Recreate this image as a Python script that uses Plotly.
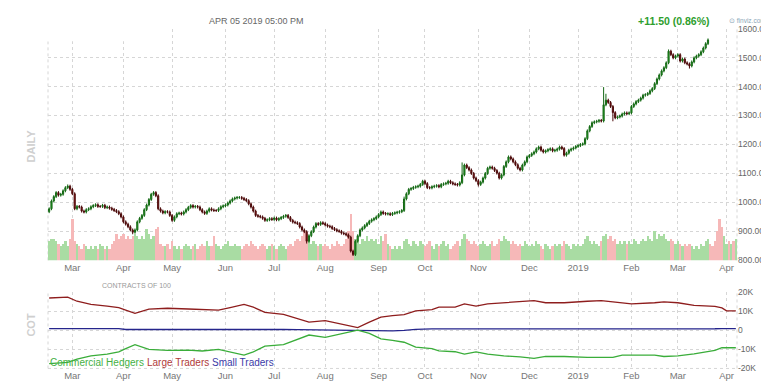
import plotly.graph_objects as go
import pandas as pd

W, H = 769, 382


def fx(p):
    return p / W


def fy(p):
    return 1 - p / H


# ---------------- data ----------------
session_dates = pd.bdate_range("2018-02-15", periods=297)
month_labels = ["Mar", "Apr", "May", "Jun", "Jul", "Aug", "Sep", "Oct", "Nov",
                "Dec", "2019", "Feb", "Mar", "Apr"]

first_open = 968
closes = [
    978, 1005, 1020, 1034, 1025, 1028, 1040, 1051, 1056, 1045,
    1030, 978, 986, 984, 970, 967, 975, 978, 985, 989,
    992, 986, 986, 990, 982, 984, 980, 976, 972, 968,
    961, 950, 933, 925, 916, 905, 897, 905, 933, 945,
    955, 975, 991, 1010, 1028, 1034, 1023, 978, 970, 964,
    968, 967, 955, 938, 950, 961, 963, 960, 967, 975,
    983, 989, 984, 986, 984, 975, 967, 962, 970, 978,
    974, 972, 972, 978, 985, 988, 991, 998, 1005, 1012,
    1015, 1017, 1017, 1014, 1010, 1006, 995, 984, 970, 955,
    952, 950, 945, 938, 940, 944, 941, 946, 940, 944,
    948, 952, 955, 948, 938, 932, 930, 927, 915, 905,
    899, 866, 885, 899, 915, 927, 924, 930, 927, 922,
    918, 916, 910, 906, 902, 900, 894, 892, 888, 880,
    832, 820, 866, 885, 905, 912, 920, 927, 935, 940,
    944, 950, 958, 967, 962, 960, 961, 958, 962, 964,
    966, 968, 972, 1012, 1030, 1045, 1048, 1052, 1054, 1056,
    1062, 1073, 1065, 1051, 1050, 1054, 1056, 1058, 1054, 1062,
    1064, 1066, 1073, 1068, 1064, 1062, 1060, 1068, 1095, 1129,
    1120, 1112, 1100, 1084, 1075, 1062, 1070, 1084, 1100, 1118,
    1122, 1118, 1110, 1101, 1084, 1095, 1124, 1140, 1157, 1150,
    1140, 1130, 1118, 1112, 1129, 1140, 1157, 1162, 1168, 1174,
    1185, 1191, 1180, 1174, 1178, 1182, 1185, 1178, 1180, 1184,
    1191, 1186, 1163, 1170, 1180, 1184, 1188, 1193, 1196, 1200,
    1202, 1220, 1247, 1262, 1275, 1278, 1280, 1283, 1281, 1337,
    1353, 1345, 1331, 1310, 1292, 1295, 1298, 1305, 1309, 1306,
    1309, 1331, 1340, 1348, 1353, 1360, 1370, 1372, 1376, 1385,
    1393, 1410, 1426, 1440, 1454, 1465, 1482, 1522, 1510, 1499,
    1505, 1510, 1488, 1495, 1482, 1478, 1471, 1485, 1499, 1505,
    1510, 1520, 1533, 1548, 1561,
]
high_spikes = {8: 1062, 153: 1020, 178: 1138, 239: 1398, 240: 1375, 267: 1528}
low_spikes = {36: 890, 111: 858, 131: 815, 185: 1055, 243: 1280, 276: 1462}
wick = 5

volume_k = [
    8, 9, 9, 8, 7, 6, 7, 8, 6, 9,
    17, 8, 7, 6, 5, 7, 6, 5, 6, 5,
    6, 5, 7, 6, 5, 6, 5, 7, 8, 11,
    9, 10, 11, 9, 10, 9, 10, 11, 10, 9,
    10, 9, 13, 11, 9, 10, 13, 14, 7, 6,
    6, 7, 5, 8, 6, 5, 6, 5, 6, 7,
    6, 5, 6, 7, 5, 6, 7, 6, 8, 6,
    6, 10, 7, 6, 5, 6, 7, 8, 6, 6,
    7, 6, 6, 5, 6, 7, 6, 8, 7, 6,
    5, 6, 7, 6, 5, 6, 7, 6, 5, 6,
    7, 6, 5, 6, 7, 6, 8, 9, 8, 10,
    12, 11, 9, 7, 8, 7, 6, 7, 6, 7,
    6, 5, 7, 6, 8, 7, 6, 7, 9, 12,
    19, 12, 9, 8, 7, 9, 8, 10, 8, 9,
    8, 9, 7, 10, 8, 11, 7, 6, 5, 6,
    5, 6, 5, 8, 9, 7, 6, 8, 7, 6,
    8, 7, 6, 7, 8, 6, 5, 7, 6, 7,
    8, 6, 7, 5, 6, 7, 8, 6, 9, 11,
    9, 8, 7, 8, 7, 6, 7, 8, 7, 6,
    7, 8, 6, 7, 9, 8, 10, 9, 8, 7,
    8, 7, 6, 7, 6, 8, 7, 6, 7, 6,
    8, 7, 6, 5, 7, 6, 5, 6, 7, 6,
    7, 6, 8, 7, 6, 5, 7, 6, 7, 6,
    7, 9, 10, 8, 7, 8, 7, 6, 8, 10,
    11, 9, 10, 8, 9, 7, 8, 7, 8, 7,
    8, 7, 9, 8, 7, 8, 9, 8, 10, 9,
    8, 12, 9, 11, 10, 11, 9, 8, 9, 8,
    7, 8, 7, 6, 7, 6, 7, 6, 5, 6,
    5, 7, 6, 8, 9, 7, 6, 8, 12, 17,
    14, 10, 7, 8, 7, 8, 9,
]
volume_up_tail = [0, 0, 0, 0, 0, 0, 1, 1, 0, 1, 0, 1]

cot_idx = [0, 8, 12, 18, 25, 30, 33, 37, 43, 51, 60, 66, 73, 78, 84, 88, 93,
           101, 107, 112, 119, 127, 133, 138, 143, 148, 153, 158, 165, 168,
           175, 179, 184, 189, 196, 203, 209, 214, 222, 232, 238, 243, 247,
           251, 261, 265, 271, 278, 287, 290, 292, 296]
large_traders_k = [17.1, 17.6, 15.4, 13.7, 12.8, 12.0, 10.7, 9.0, 11.2, 11.7,
                   11.3, 11.0, 10.7, 12.0, 13.7, 12.3, 9.5, 8.5, 6.1, 4.4,
                   5.2, 3.0, 1.5, 4.4, 7.0, 7.8, 8.3, 10.3, 11.0, 12.3,
                   12.3, 14.0, 12.8, 14.0, 14.6, 15.1, 15.7, 14.6, 14.6, 15.4,
                   15.7, 15.0, 14.6, 14.0, 14.6, 15.1, 14.6, 13.2, 12.7, 11.9,
                   10.3, 10.3]
commercial_k = [-17.5, -16.8, -15.1, -13.4, -12.5, -11.3, -9.6, -7.5, -10.0,
                -10.5, -10.3, -10.8, -10.0, -11.3, -13.0, -11.3, -8.3, -7.5,
                -4.9, -2.4, -3.6, -1.5, 0.2, -1.5, -4.4, -5.2, -6.2, -8.8,
                -9.6, -10.8, -11.2, -12.5, -11.3, -12.5, -13.4, -13.9, -14.7,
                -13.7, -13.7, -14.2, -14.4, -14.2, -13.0, -13.0, -13.0, -13.7,
                -13.4, -12.3, -10.5, -9.1, -9.1, -9.1]
small_k = [1.0, 1.0, 1.0, 1.0, 1.0, 1.0, 0.5, 0.5, 0.5, 0.5, 0.5, 0.6, 0.8,
           0.8, 0.7, 0.6, 0.5, 0.5, 0.4, 0.3, 0.2, 0.0, -0.2, -0.2, -0.2,
           -0.2, 0.0, 0.6, 0.8, 0.8, 0.8, 0.8, 0.8, 0.8, 0.8, 0.8, 0.8, 0.8,
           0.7, 0.6, 0.6, 0.6, 0.6, 0.7, 0.8, 0.8, 0.8, 0.8, 0.9, 1.0, 1.0,
           1.0]

price_ticks = [800, 900, 1000, 1100, 1200, 1300, 1400, 1500, 1600]
cot_ticks = [-20000, -10000, 0, 10000, 20000]
cot_tick_text = ["-20K", "-10K", "0", "10K", "20K"]

# ---------------- derived ----------------
n_c = len(closes)
opens = [first_open] + closes[:-1]
highs = [high_spikes.get(i, max(opens[i], closes[i]) + wick) for i in range(n_c)]
lows = [low_spikes.get(i, min(opens[i], closes[i]) - wick) for i in range(n_c)]
cx = list(range(n_c))
vx = list(range(len(volume_k)))
tickvals = [i for i in range(1, len(session_dates))
            if session_dates[i].month != session_dates[i - 1].month]

GREEN_V = "#a9dca3"
RED_V = "#f6b8b8"
vol_colors = []
for i in range(len(volume_k)):
    if i < n_c:
        up = closes[i] >= opens[i]
    else:
        up = volume_up_tail[i - n_c] == 1
    vol_colors.append(GREEN_V if up else RED_V)

FONT = "Liberation Sans, Arial, sans-serif"
GRID = "#d6d6d6"

fig = go.Figure()

fig.add_trace(go.Bar(x=vx, y=volume_k, marker=dict(color=vol_colors, line=dict(width=0)),
                     width=1.0, xaxis="x", yaxis="y", showlegend=False))

fig.add_trace(go.Candlestick(
    x=cx, open=opens, high=highs, low=lows, close=closes,
    xaxis="x", yaxis="y2", showlegend=False, whiskerwidth=0,
    increasing=dict(fillcolor="#22a822", line=dict(color="#156815", width=1)),
    decreasing=dict(fillcolor="#a01010", line=dict(color="#4a0a0a", width=1)),
))

fig.add_trace(go.Scatter(x=cot_idx, y=[v * 1000 for v in small_k], mode="lines",
                         line=dict(color="#25258c", width=1.3), xaxis="x2", yaxis="y3",
                         showlegend=False))
fig.add_trace(go.Scatter(x=cot_idx, y=[v * 1000 for v in large_traders_k], mode="lines",
                         line=dict(color="#8e1d1d", width=1.3), xaxis="x2", yaxis="y3",
                         showlegend=False))
fig.add_trace(go.Scatter(x=cot_idx, y=[v * 1000 for v in commercial_k], mode="lines",
                         line=dict(color="#3aad3a", width=1.3), xaxis="x2", yaxis="y3",
                         showlegend=False))

xdom = [fx(40), fx(729)]
axis_common = dict(
    range=[-0.5, 296.5], tickmode="array", tickvals=tickvals, ticktext=month_labels,
    showgrid=True, gridcolor=GRID, griddash="3px,3px", gridwidth=1,
    zeroline=False, showline=False, ticks="",
    tickfont=dict(family=FONT, size=9.5, color="#777777"),
    fixedrange=True,
)

fig.update_layout(
    width=W, height=H, margin=dict(l=0, r=0, t=0, b=0),
    paper_bgcolor="white", plot_bgcolor="white",
    showlegend=False, bargap=0,
    xaxis=dict(domain=xdom, anchor="y", rangeslider=dict(visible=False), **axis_common),
    yaxis=dict(domain=[fy(254), fy(16)], range=[0, 95], visible=False, fixedrange=True),
    yaxis2=dict(overlaying="y", side="right", anchor="x", range=[800, 1600],
                tickmode="array", tickvals=price_ticks,
                ticktext=[f"{v:.2f}" for v in price_ticks],
                showgrid=True, gridcolor=GRID, griddash="3px,3px", zeroline=False,
                ticks="", ticklabelstandoff=0,
                tickfont=dict(family=FONT, size=8.5, color="#666666")),
    xaxis2=dict(domain=xdom, anchor="y3", **axis_common),
    yaxis3=dict(domain=[fy(365), fy(287)], side="right", anchor="x2",
                range=[-20000, 20000], tickmode="array", tickvals=cot_ticks,
                ticktext=cot_tick_text, showgrid=True, gridcolor=GRID,
                griddash="3px,3px", zeroline=False, ticks="", ticklabelstandoff=0,
                tickfont=dict(family=FONT, size=8.5, color="#666666")),
)

# panel borders (dashed, like grid)
shapes = []
for (y0, y1) in [(16, 254), (287, 365)]:
    for xp in (40, 729):
        shapes.append(dict(type="line", xref="paper", yref="paper",
                           x0=fx(xp), x1=fx(xp), y0=fy(y1), y1=fy(y0),
                           line=dict(color=GRID, width=1, dash="3px,3px"), layer="below"))
shapes.append(dict(type="line", xref="paper", yref="paper", x0=fx(40), x1=fx(729),
                   y0=fy(365), y1=fy(365), line=dict(color=GRID, width=1, dash="3px,3px"),
                   layer="below"))
shapes.append(dict(type="rect", xref="paper", yref="paper", x0=fx(30), x1=fx(121),
                   y0=fy(29), y1=fy(0), fillcolor="white", line=dict(width=0), layer="above"))
fig.update_layout(shapes=shapes)

ann = [
    dict(text="APR 05 2019 05:00 PM", x=fx(248), y=fy(8), xanchor="center", yanchor="middle",
         font=dict(family=FONT, size=9, color="#666666")),
    dict(text="<b>+11.50 (0.86%)</b>", x=fx(704), y=fy(8), xanchor="right", yanchor="middle",
         font=dict(family=FONT, size=10.5, color="#2e9e2e")),
    dict(text="⊙ finviz.com", x=fx(760), y=fy(8), xanchor="right", yanchor="middle",
         font=dict(family=FONT, size=6.5, color="#8aa6b8")),
    dict(text="<b>DAILY</b>", x=fx(23), y=fy(137), xanchor="center", yanchor="middle",
         textangle=-90, font=dict(family=FONT, size=11, color="#cfcfcf")),
    dict(text="<b>COT</b>", x=fx(23), y=fy(320), xanchor="center", yanchor="middle",
         textangle=-90, font=dict(family=FONT, size=11, color="#cfcfcf")),
    dict(text="CONTRACTS OF 100", x=fx(92), y=fy(280), xanchor="left", yanchor="middle",
         font=dict(family=FONT, size=7, color="#999999")),
    dict(text="Commercial Hedgers", x=fx(40), y=fy(359), xanchor="left", yanchor="middle",
         font=dict(family=FONT, size=10, color="#45b045")),
    dict(text="Large Traders", x=fx(137), y=fy(359), xanchor="left", yanchor="middle",
         font=dict(family=FONT, size=10, color="#b03a3a")),
    dict(text="Small Traders", x=fx(202), y=fy(359), xanchor="left", yanchor="middle",
         font=dict(family=FONT, size=10, color="#3a3aa8")),
]
for a in ann:
    a.update(xref="paper", yref="paper", showarrow=False)
fig.update_layout(annotations=ann)

fig.write_html("out.html")
